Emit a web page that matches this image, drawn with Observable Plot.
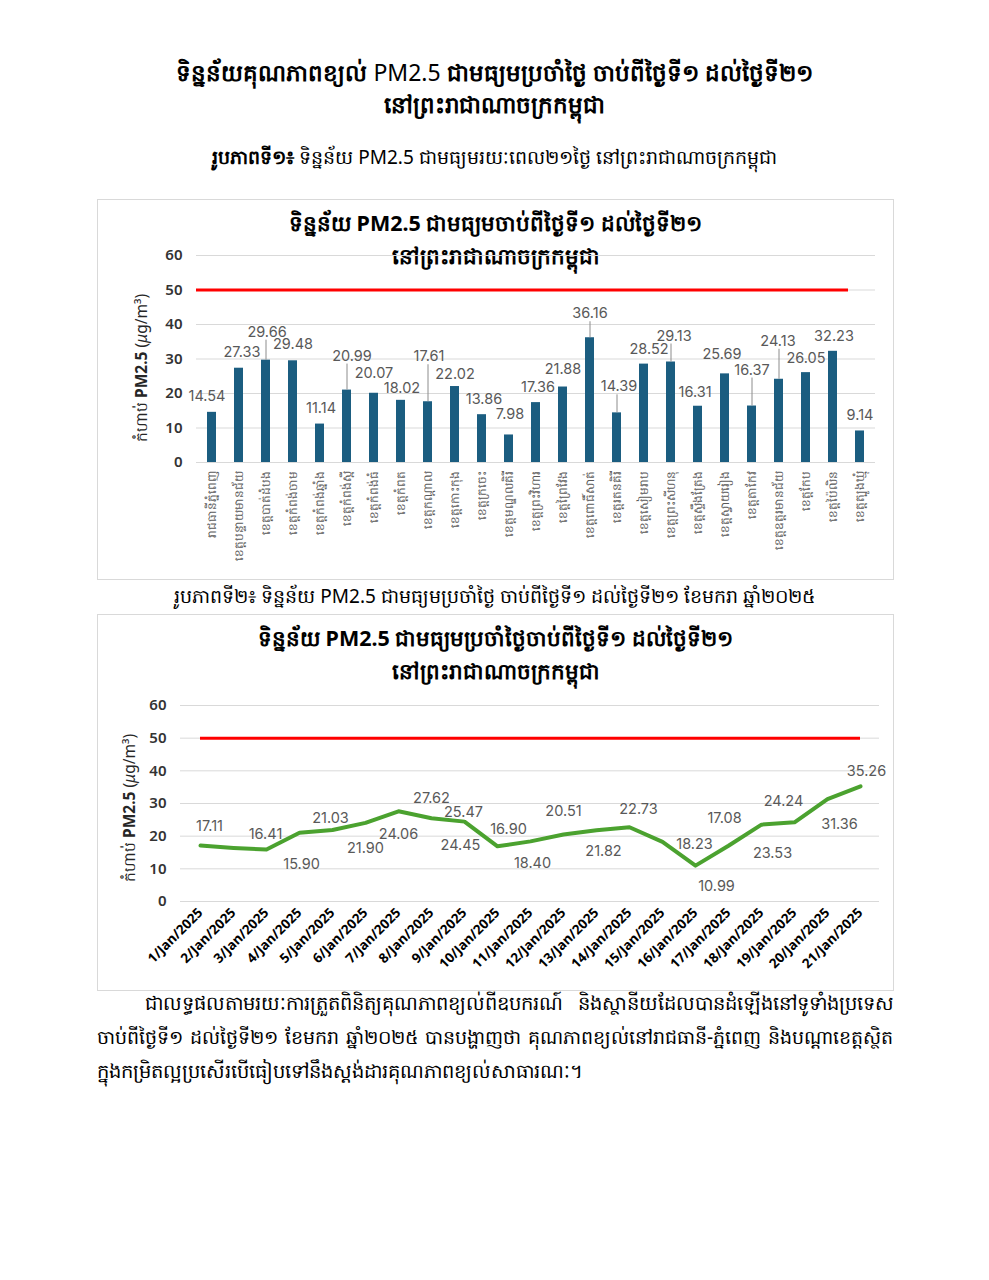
<!DOCTYPE html>
<html>
<head>
<meta charset="utf-8">
<script src="https://cdn.jsdelivr.net/npm/d3@7"></script>
<script src="https://cdn.jsdelivr.net/npm/@observablehq/plot@0.6"></script>
<style>
  html, body { margin: 0; padding: 0; background: #fff; }
  body { font-family: "Noto Sans", "DejaVu Sans", sans-serif; color: #000; }
  #page { position: relative; width: 989px; height: 1280px; overflow: hidden; }
  .abs { position: absolute; }
  .title { left: 0; width: 989px; text-align: center; font-weight: bold; font-size: 23px; line-height: 32px; top: 56px; white-space: nowrap; }
  .cap { left: 0; width: 989px; text-align: center; font-size: 19px; white-space: nowrap; }
  .box { left: 97px; width: 795px; border: 1px solid #d9d9d9; background: #fff; }
  .ctitle { left: 0; width: 100%; text-align: center; font-weight: bold; font-size: 21.5px; line-height: 33px; white-space: nowrap; }
  .ylab { font-size: 15.5px; white-space: nowrap; color: #262626; transform-origin: 0 0; }
  .pline { left: 97px; width: 796px; font-size: 19.5px; line-height: 34px; text-align: justify; text-align-last: justify; white-space: nowrap; }
  svg { overflow: visible; }
</style>
</head>
<body>
<div id="page">
  <div class="abs title">ទិន្នន័យគុណភាពខ្យល់ <span style="font-weight:normal">PM2.5</span> ជាមធ្យមប្រចាំថ្ងៃ ចាប់ពីថ្ងៃទី១ ដល់ថ្ងៃទី២១<br>នៅព្រះរាជាណាចក្រកម្ពុជា</div>
  <div class="abs cap" style="top:144px"><b>រូបភាពទី១៖</b> ទិន្នន័យ PM2.5 ជាមធ្យមរយៈពេល២១ថ្ងៃ នៅព្រះរាជាណាចក្រកម្ពុជា</div>
  <div class="abs box" id="box1" style="top:199px;height:379px">
    <div class="abs ctitle" style="top:6px">ទិន្នន័យ PM2.5 ជាមធ្យមចាប់ពីថ្ងៃទី១ ដល់ថ្ងៃទី២១<br>នៅព្រះរាជាណាចក្រកម្ពុជា</div>
    <div class="abs ylab" style="left:32px;top:242px;transform:rotate(-90deg)">កំហាប់ <b>PM2.5</b> (<i>μ</i>g/m³)</div>
    <div class="abs" id="chart1" style="left:0;top:0"></div>
  </div>
  <div class="abs cap" style="top:583px">រូបភាពទី២៖ ទិន្នន័យ PM2.5 ជាមធ្យមប្រចាំថ្ងៃ ចាប់ពីថ្ងៃទី១ ដល់ថ្ងៃទី២១ ខែមករា ឆ្នាំ២០២៥</div>
  <div class="abs box" id="box2" style="top:614px;height:375px">
    <div class="abs ctitle" style="top:6px">ទិន្នន័យ PM2.5 ជាមធ្យមប្រចាំថ្ងៃចាប់ពីថ្ងៃទី១ ដល់ថ្ងៃទី២១<br>នៅព្រះរាជាណាចក្រកម្ពុជា</div>
    <div class="abs ylab" style="left:20px;top:267px;transform:rotate(-90deg)">កំហាប់ <b>PM2.5</b> (<i>μ</i>g/m³)</div>
    <div class="abs" id="chart2" style="left:0;top:0"></div>
  </div>
  <div class="abs pline" style="top:986px;left:145px;width:748px">ជាលទ្ធផលតាមរយៈការត្រួតពិនិត្យគុណភាពខ្យល់ពីឧបករណ៍ &nbsp; និងស្ថានីយដែលបានដំឡើងនៅទូទាំងប្រទេស</div>
  <div class="abs pline" style="top:1020px;font-size:19px">ចាប់ពីថ្ងៃទី១ ដល់ថ្ងៃទី២១ ខែមករា ឆ្នាំ២០២៥ បានបង្ហាញថា គុណភាពខ្យល់នៅរាជធានី-ភ្នំពេញ និងបណ្ដាខេត្តស្ថិត</div>
  <div class="abs pline" style="top:1054px;text-align:left;text-align-last:left">ក្នុងកម្រិតល្អប្រសើរបើធៀបទៅនឹងស្តង់ដារគុណភាពខ្យល់សាធារណៈ។</div>
</div>
<script>
// ---- Data ----
const provinces = [
  "រាជធានីភ្នំពេញ", "ខេត្តបន្ទាយមានជ័យ", "ខេត្តបាត់ដំបង", "ខេត្តកំពង់ចាម", "ខេត្តកំពង់ឆ្នាំង",
  "ខេត្តកំពង់ស្ពឺ", "ខេត្តកំពង់ធំ", "ខេត្តកំពត", "ខេត្តកណ្ដាល", "ខេត្តកោះកុង",
  "ខេត្តក្រចេះ", "ខេត្តមណ្ឌលគិរី", "ខេត្តព្រះវិហារ", "ខេត្តព្រៃវែង", "ខេត្តពោធិ៍សាត់",
  "ខេត្តរតនគិរី", "ខេត្តសៀមរាប", "ខេត្តព្រះសីហនុ", "ខេត្តស្ទឹងត្រែង", "ខេត្តស្វាយរៀង",
  "ខេត្តតាកែវ", "ខេត្តឧត្តរមានជ័យ", "ខេត្តកែប", "ខេត្តប៉ៃលិន", "ខេត្តត្បូងឃ្មុំ"
];
const provinceValues = [
  14.54, 27.33, 29.66, 29.48, 11.14, 20.99, 20.07, 18.02, 17.61, 22.02,
  13.86, 7.98, 17.36, 21.88, 36.16, 14.39, 28.52, 29.13, 16.31, 25.69,
  16.37, 24.13, 26.05, 32.23, 9.14
];
const dates = [
  "1/Jan/2025", "2/Jan/2025", "3/Jan/2025", "4/Jan/2025", "5/Jan/2025", "6/Jan/2025", "7/Jan/2025",
  "8/Jan/2025", "9/Jan/2025", "10/Jan/2025", "11/Jan/2025", "12/Jan/2025", "13/Jan/2025", "14/Jan/2025",
  "15/Jan/2025", "16/Jan/2025", "17/Jan/2025", "18/Jan/2025", "19/Jan/2025", "20/Jan/2025", "21/Jan/2025"
];
const dailyValues = [
  17.11, 16.41, 15.90, 21.03, 21.90, 24.06, 27.62, 25.47, 24.45, 16.90, 18.40,
  20.51, 21.82, 22.73, 18.23, 10.99, 17.08, 23.53, 24.24, 31.36, 35.26
];
const standard = 50;
const yTicks = [0, 10, 20, 30, 40, 50, 60];

// ---- Label placement (pixel offsets, layout only) ----
const barLabelOffsets = [
  [-5,-16],[3,-16],[1,-28],[0,-16],[1,-16],[5,-34],[0,-20],[1,-12],[1,-45],[0,-12],
  [2,-15],[1,-21],[2,-15],[0,-18],[0,-24],[2,-26],[5,-15],[3,-26],[-3,-14],[-3,-20],
  [0,-36],[-1,-38],[0,-14],[1,-15],[0,-16]
];
const lineLabelOffsets = [
  [9,-19],[32,-14],[35,15],[31,-14],[33,18],[33,11],[33,-13],[32,-6],[-4,24],[11,-17],[2,22],
  [0,-23],[7,21],[9,-18],[32,2],[21,21],[-4,-27],[11,29],[-11,-21],[12,25],[6,-15]
];

const barData = provinces.map((p, i) => ({name: p, value: provinceValues[i]}));
const lineData = dates.map((d, i) => ({date: d, value: dailyValues[i]}));

const labelStyle = {fill: "#595959", fontSize: 14.5, fontFamily: "Inter, 'Noto Sans', sans-serif"};

// ---- Chart 1: bars ----
const chart1 = Plot.plot({
  width: 795, height: 379,
  marginTop: 55, marginBottom: 117, marginLeft: 98, marginRight: 18,
  style: {fontFamily: "'Noto Sans', 'DejaVu Sans', sans-serif", background: "transparent", overflow: "visible"},
  x: {type: "band", domain: provinces, paddingInner: 0.65, paddingOuter: 0.325, label: null},
  y: {domain: [0, 60], ticks: yTicks, label: null},
  marks: [
    Plot.gridY(yTicks, {stroke: "#d9d9d9", strokeOpacity: 1}),
    Plot.axisY(yTicks, {tickSize: 0, tickPadding: 14, fontSize: 15, fontWeight: 600, fill: "#333", label: null}),
    Plot.axisX({tickSize: 0, tickPadding: 8, tickRotate: -90, fontSize: 12, fill: "#595959", label: null}),
    Plot.barY(barData, {x: "name", y: "value", fill: "#1b5d80"}),
    Plot.ruleY([standard], {stroke: "#ff0000", strokeWidth: 3, insetRight: 27}),
    ...barData.map((d, i) => barLabelOffsets[i][1] < -22
      ? Plot.ruleX([d], {x: "name", y1: "value", y2: "value", insetTop: barLabelOffsets[i][1] + 8, stroke: "#8c8c8c", strokeWidth: 1})
      : null).filter(Boolean),
    ...barData.map((d, i) => Plot.text([d], {
      x: "name", y: "value", text: dd => dd.value.toFixed(2),
      dx: barLabelOffsets[i][0], dy: barLabelOffsets[i][1], ...labelStyle
    }))
  ]
});
document.getElementById("chart1").appendChild(chart1);

// ---- Chart 2: line ----
const chart2 = Plot.plot({
  width: 795, height: 375,
  marginTop: 90, marginBottom: 89, marginLeft: 82, marginRight: 14,
  style: {fontFamily: "'Noto Sans', 'DejaVu Sans', sans-serif", background: "transparent", overflow: "visible"},
  x: {type: "point", domain: dates, padding: 0.5, label: null},
  y: {domain: [0, 60], ticks: yTicks, label: null},
  marks: [
    Plot.gridY(yTicks, {stroke: "#d9d9d9", strokeOpacity: 1}),
    Plot.axisY(yTicks, {tickSize: 0, tickPadding: 14, fontSize: 15, fontWeight: 600, fill: "#333", label: null}),
    Plot.axisX({tickSize: 0, tickPadding: 9, tickRotate: -45, fontSize: 13.5, fontWeight: "bold", fill: "#000", label: null}),
    Plot.ruleY([standard], {x1: () => dates[0], x2: () => dates[dates.length - 1], stroke: "#ff0000", strokeWidth: 3}),
    Plot.line(lineData, {x: "date", y: "value", stroke: "#4ba22f", strokeWidth: 4, strokeLinejoin: "round"}),
    ...lineData.map((d, i) => Plot.text([d], {
      x: "date", y: "value", text: dd => dd.value.toFixed(2),
      dx: lineLabelOffsets[i][0], dy: lineLabelOffsets[i][1], ...labelStyle
    }))
  ]
});
document.getElementById("chart2").appendChild(chart2);
</script>
</body>
</html>
